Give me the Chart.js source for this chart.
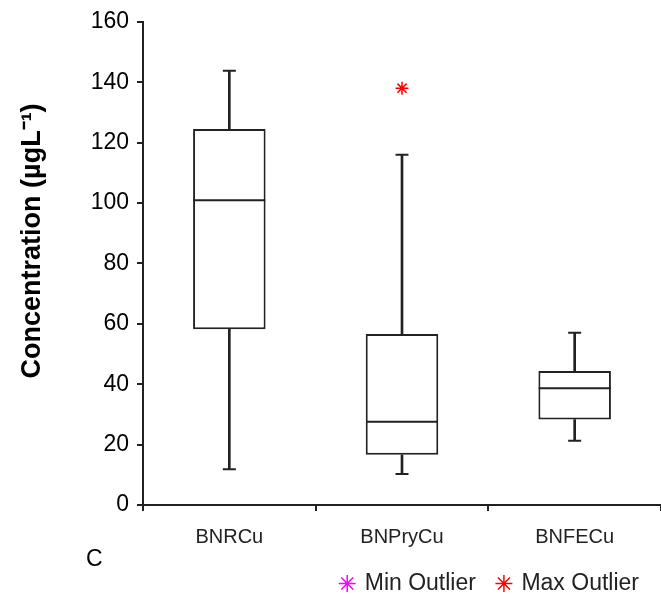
<!DOCTYPE html>
<html>
<head>
<meta charset="utf-8">
<script src="https://cdn.jsdelivr.net/npm/chart.js@4/dist/chart.umd.min.js"></script>
<style>
  html, body { margin: 0; padding: 0; background: #fff; }
  #wrap { position: relative; width: 661px; height: 596px; }
  #panel { position: absolute; left: 86px; top: 545px; font: 23px "Liberation Sans", Arial, sans-serif; color: #000; }
</style>
</head>
<body>
<div id="wrap">
  <canvas id="boxChart" width="661" height="596"></canvas>
  <div id="panel">C</div>
</div>
<script>
const categories = ["BNRCu", "BNPryCu", "BNFECu"];
const minVals = [11.8, 10.3, 21.3];
const q1Vals = [58.2, 16.6, 28.3];
const medianVals = [100.9, 27.6, 38.7];
const q3Vals = [124.5, 56.6, 44.4];
const maxVals = [143.8, 116.0, 57.0];
const maxOutliers = [null, 138.0, null];
const minOutliers = [null, null, null];
const yTicks = [0, 20, 40, 60, 80, 100, 120, 140, 160];

const ink = "#222";
const FONT = "'Liberation Sans', Arial, sans-serif";

const ctx = document.getElementById("boxChart");

const lowerWhisker = categories.map((c, i) => [minVals[i], q1Vals[i]]);
const upperWhisker = categories.map((c, i) => [q3Vals[i], maxVals[i]]);
const boxes = categories.map((c, i) => [q1Vals[i], q3Vals[i]]);

// small helper for the point-only marker datasets
function marks(label, data, style, radius, color, order) {
  return {
    type: "line",
    label: label,
    data: data,
    showLine: false,
    pointStyle: style,
    pointRadius: radius,
    borderColor: color,
    backgroundColor: color,
    borderWidth: style === "star" ? 1.5 : 2,
    pointBorderWidth: style === "star" ? 1.5 : 2,
    order: order,
  };
}

const myChart = new Chart(ctx, {
  type: "bar",
  data: {
    labels: categories,
    datasets: [
      {
        label: "lower whisker",
        data: lowerWhisker,
        backgroundColor: ink,
        barThickness: 2,
        grouped: false,
        order: 4,
      },
      {
        label: "upper whisker",
        data: upperWhisker,
        backgroundColor: ink,
        barThickness: 2,
        grouped: false,
        order: 4,
      },
      {
        label: "box",
        data: boxes,
        backgroundColor: "#fff",
        borderColor: ink,
        borderWidth: 2,
        borderSkipped: false,
        barPercentage: 0.42,
        categoryPercentage: 1,
        grouped: false,
        order: 3,
      },
      marks("median", medianVals, "line", 36, ink, 2),
      marks("max cap", maxVals, "line", 6.5, ink, 2),
      marks("min cap", minVals, "line", 6.5, ink, 2),
      marks("Min Outlier", minOutliers, "star", 6.5, "#ff00ff", 1),
      marks("Max Outlier", maxOutliers, "star", 6.5, "#ff0000", 1),
    ],
  },
  options: {
    responsive: false,
    animation: false,
    layout: {
      autoPadding: false,
      padding: { top: 20, right: 0, bottom: -9, left: 0 },
    },
    plugins: {
      tooltip: { enabled: false },
      legend: {
        display: true,
        position: "bottom",
        align: "end",
        labels: {
          usePointStyle: true,
          color: ink,
          font: { family: FONT, size: 23 },
          padding: 22,
          boxHeight: 12,
          boxWidth: 12,
          filter: (item) => item.text.indexOf("Outlier") > -1,
        },
      },
    },
    scales: {
      x: {
        offset: true,
        grid: {
          display: true,
          offset: true,
          drawOnChartArea: false,
          drawTicks: true,
          tickLength: 6,
          color: ink,
          lineWidth: 2,
        },
        border: { display: true, color: ink, width: 2 },
        ticks: {
          color: ink,
          padding: 14,
          font: { family: FONT, size: 20 },
        },
        afterFit: (scale) => {
          scale.height = 45;
        },
      },
      y: {
        min: 0,
        max: 160,
        afterBuildTicks: (scale) => {
          scale.ticks = yTicks.map((v) => ({ value: v }));
        },
        grid: {
          display: true,
          drawOnChartArea: false,
          drawTicks: true,
          tickLength: 6,
          color: ink,
          lineWidth: 2,
        },
        border: { display: true, color: ink, width: 2 },
        ticks: {
          color: "#000",
          padding: 8,
          font: { family: FONT, size: 23 },
        },
        title: {
          display: true,
          // leading spaces nudge the rotated title upward, as in the original
          text: "      Concentration (µgL⁻¹)",
          color: "#000",
          padding: { top: 16, bottom: 0 },
          font: { family: FONT, size: 27, weight: "bold" },
        },
        afterFit: (scale) => {
          scale.width = 143;
        },
      },
    },
  },
});
</script>
</body>
</html>
